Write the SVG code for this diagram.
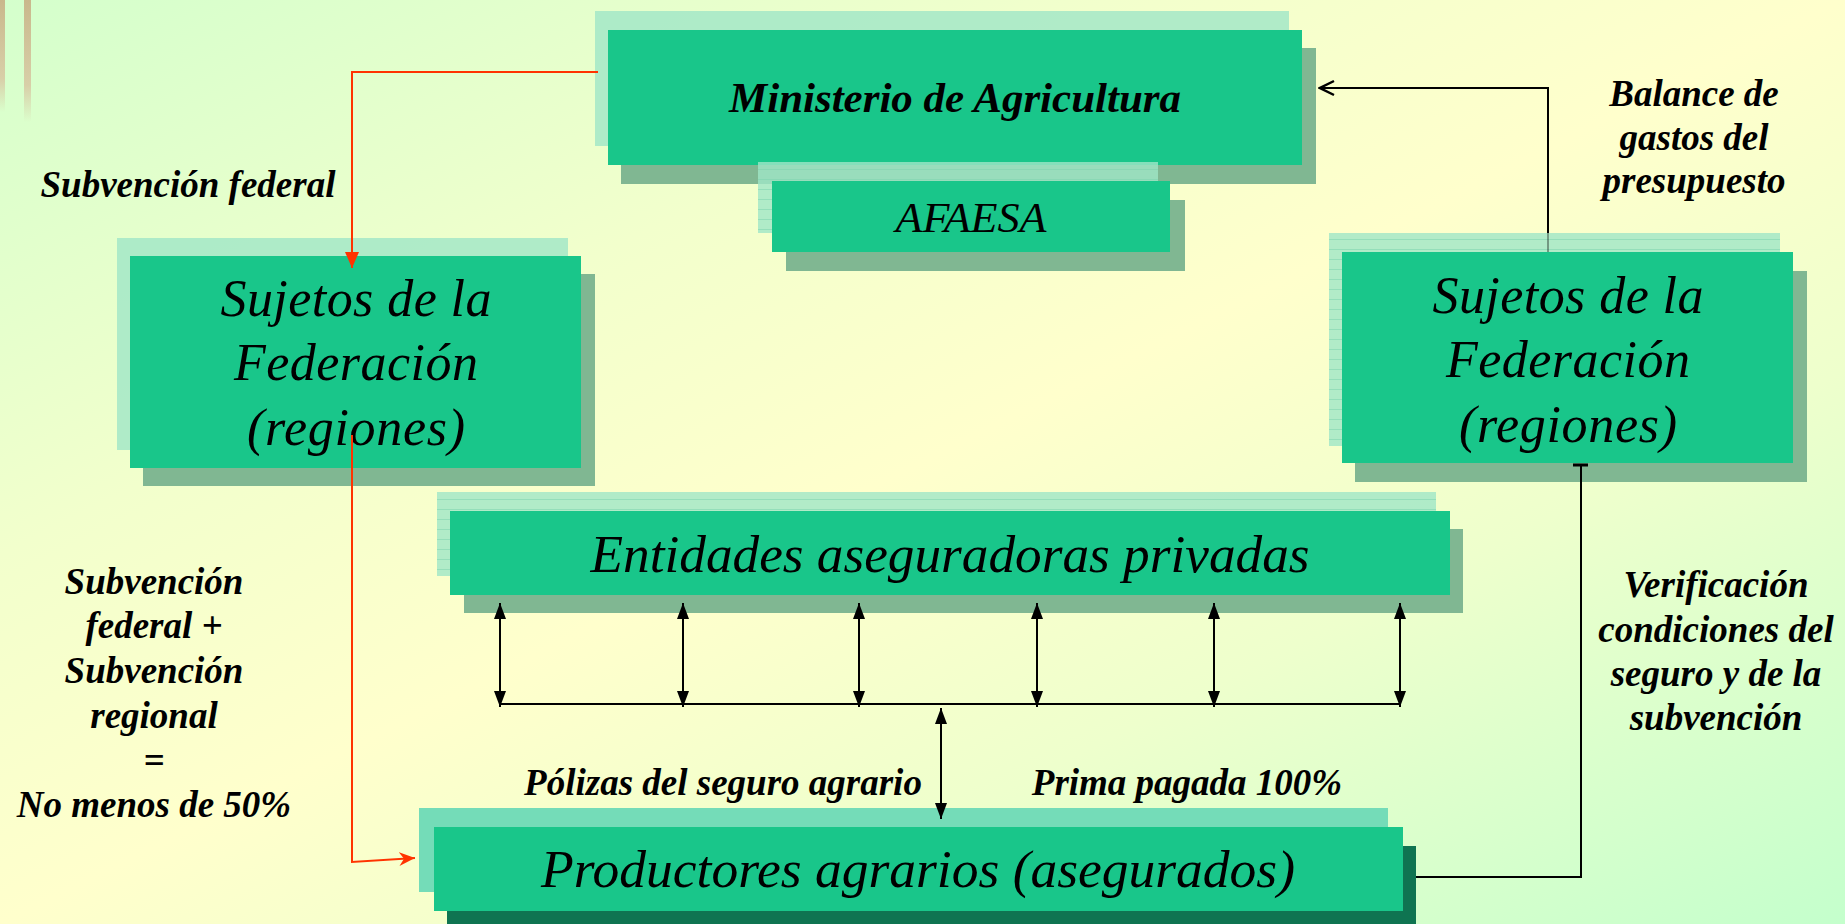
<svg xmlns="http://www.w3.org/2000/svg" width="1845" height="924" viewBox="0 0 1845 924">
<defs>
<linearGradient id="bg" x1="0" y1="0" x2="1" y2="1">
<stop offset="0" stop-color="#D4FFCC"/>
<stop offset="0.3" stop-color="#F2FFCC"/>
<stop offset="0.5" stop-color="#FFFFCC"/>
<stop offset="0.7" stop-color="#EEFFCC"/>
<stop offset="1" stop-color="#C4FFCC"/>
</linearGradient>
<linearGradient id="stick" x1="0" y1="0" x2="0" y2="1">
<stop offset="0" stop-color="#C9B88C"/>
<stop offset="0.7" stop-color="#D8CFA8"/>
<stop offset="1" stop-color="#D8CFA8" stop-opacity="0"/>
</linearGradient>
<pattern id="stripes" width="10" height="10" patternUnits="userSpaceOnUse">
<rect x="0" y="9" width="10" height="1" fill="#7ED3AE" fill-opacity="0.55"/>
</pattern>
<marker id="tri" viewBox="0 0 16 12" refX="16" refY="6" markerWidth="16" markerHeight="12" markerUnits="userSpaceOnUse" orient="auto-start-reverse">
<path d="M0,0 L16,6 L0,12 Z" fill="#000"/>
</marker>
<marker id="redTri" viewBox="0 0 16 14" refX="16" refY="7" markerWidth="16" markerHeight="14" markerUnits="userSpaceOnUse" orient="auto">
<path d="M0,0 L16,7 L0,14 Z" fill="#FF3300"/>
</marker>
<marker id="redStealth" viewBox="0 0 16 14" refX="16" refY="7" markerWidth="16" markerHeight="14" markerUnits="userSpaceOnUse" orient="auto">
<path d="M0,0 L16,7 L0,14 L5,7 Z" fill="#FF3300"/>
</marker>
<marker id="open" viewBox="0 0 18 18" refX="16" refY="9" markerWidth="18" markerHeight="18" markerUnits="userSpaceOnUse" orient="auto">
<path d="M2,2 L16,9 L2,16" fill="none" stroke="#000" stroke-width="2.5"/>
</marker>
</defs>
<style>
.main{fill:#19C68A}
.light{fill:#9FE6C7;fill-opacity:0.8}
.shadow{fill:#80B792}
.plight{fill:#74DCB8}
.pshadow{fill:#0F7451}
.stripe{fill:url(#stripes)}
.box{font-family:"Liberation Serif","Times New Roman",serif;font-style:italic;fill:#000;text-anchor:middle}
.lbl{font-family:"Liberation Serif","Times New Roman",serif;font-style:italic;font-weight:bold;font-size:37px;fill:#000;text-anchor:middle}
.blk{fill:none;stroke:#000;stroke-width:2}
.red{fill:none;stroke:#FF3300;stroke-width:2}
</style>
<rect x="0" y="0" width="1845" height="924" fill="url(#bg)"/>
<rect x="0" y="0" width="5" height="112" fill="url(#stick)"/>
<rect x="24" y="0" width="7" height="122" fill="url(#stick)"/>

<g id="nodes">
<g id="ministerio">
<rect class="light" x="595" y="11" width="694" height="135"/>
<rect class="shadow" x="621" y="48" width="695" height="136"/>
<rect class="main" x="608" y="30" width="694" height="135"/>
<text class="box" x="955" y="112" font-size="42" font-weight="bold" textLength="452" lengthAdjust="spacingAndGlyphs">Ministerio de Agricultura</text>
</g>
<g id="afaesa">
<rect class="light" x="758" y="162" width="400" height="71"/>
<rect class="stripe" x="758" y="162" width="400" height="71"/>
<rect class="shadow" x="786" y="200" width="399" height="71"/>
<rect class="main" x="772" y="181" width="398" height="71"/>
<text class="box" x="971" y="232" font-size="42" textLength="151" lengthAdjust="spacingAndGlyphs">AFAESA</text>
</g>
<g id="sujetos-left">
<rect class="light" x="117" y="238" width="451" height="212"/>
<rect class="shadow" x="143" y="274" width="452" height="212"/>
<rect class="main" x="130" y="256" width="451" height="212"/>
<text class="box" font-size="52"><tspan x="356" y="316" textLength="271">Sujetos de la</tspan><tspan x="356" y="380" textLength="244">Federación</tspan><tspan x="356" y="445" textLength="218">(regiones)</tspan></text>
</g>
<g id="sujetos-right">
<rect class="light" x="1329" y="233" width="451" height="213"/>
<rect class="stripe" x="1329" y="233" width="451" height="213"/>
<rect class="shadow" x="1355" y="271" width="452" height="211"/>
<rect class="main" x="1342" y="252" width="451" height="211"/>
<text class="box" font-size="52"><tspan x="1568" y="313" textLength="271">Sujetos de la</tspan><tspan x="1568" y="377" textLength="244">Federación</tspan><tspan x="1568" y="442" textLength="218">(regiones)</tspan></text>
</g>
<g id="entidades">
<rect class="light" x="437" y="492" width="999" height="84"/>
<rect class="stripe" x="437" y="492" width="999" height="84"/>
<rect class="shadow" x="464" y="529" width="999" height="84"/>
<rect class="main" x="450" y="511" width="1000" height="84"/>
<text class="box" x="950" y="572" font-size="52" textLength="719" lengthAdjust="spacingAndGlyphs">Entidades aseguradoras privadas</text>
</g>
<g id="productores">
<rect class="plight" x="419" y="808" width="969" height="84"/>
<rect class="pshadow" x="447" y="846" width="969" height="90"/>
<rect class="main" x="434" y="827" width="969" height="84"/>
<text class="box" x="918" y="887" font-size="52" textLength="754" lengthAdjust="spacingAndGlyphs">Productores agrarios (asegurados)</text>
</g>
</g>

<g id="connectors">
<path class="red" d="M598,72 H352 V268" marker-end="url(#redTri)"/>
<path class="red" d="M352,435 V862 L415,858" marker-end="url(#redStealth)"/>
<path class="blk" d="M1548,233 V88 H1320" marker-end="url(#open)"/>
<path d="M1548,233 V252" stroke="#000" stroke-width="2" stroke-opacity="0.35"/>
<path class="blk" d="M1416,877 H1581 V465"/>
<path d="M1573,465 H1588" stroke="#000" stroke-width="3"/>
<path class="blk" d="M500,704 H1400" stroke-width="3"/>
<path class="blk" d="M500,603 V707" marker-start="url(#tri)" marker-end="url(#tri)"/>
<path class="blk" d="M683,603 V707" marker-start="url(#tri)" marker-end="url(#tri)"/>
<path class="blk" d="M859,603 V707" marker-start="url(#tri)" marker-end="url(#tri)"/>
<path class="blk" d="M1037,603 V707" marker-start="url(#tri)" marker-end="url(#tri)"/>
<path class="blk" d="M1214,603 V707" marker-start="url(#tri)" marker-end="url(#tri)"/>
<path class="blk" d="M1400,603 V707" marker-start="url(#tri)" marker-end="url(#tri)"/>
<path class="blk" d="M941,708 V819" marker-start="url(#tri)" marker-end="url(#tri)"/>
</g>

<g id="labels">
<text class="lbl" x="188" y="197">Subvención federal</text>
<text class="lbl"><tspan x="154" y="594">Subvención</tspan><tspan x="154" y="638">federal +</tspan><tspan x="154" y="683">Subvención</tspan><tspan x="154" y="728">regional</tspan><tspan x="154" y="773">=</tspan><tspan x="154" y="817">No menos de 50%</tspan></text>
<text class="lbl"><tspan x="1694" y="106">Balance de</tspan><tspan x="1694" y="150">gastos del</tspan><tspan x="1694" y="193">presupuesto</tspan></text>
<text class="lbl"><tspan x="1716" y="597">Verificación</tspan><tspan x="1716" y="642">condiciones del</tspan><tspan x="1716" y="686">seguro y de la</tspan><tspan x="1716" y="730">subvención</tspan></text>
<text class="lbl" x="723" y="795">Pólizas del seguro agrario</text>
<text class="lbl" x="1187" y="795">Prima pagada 100%</text>
</g>
</svg>
